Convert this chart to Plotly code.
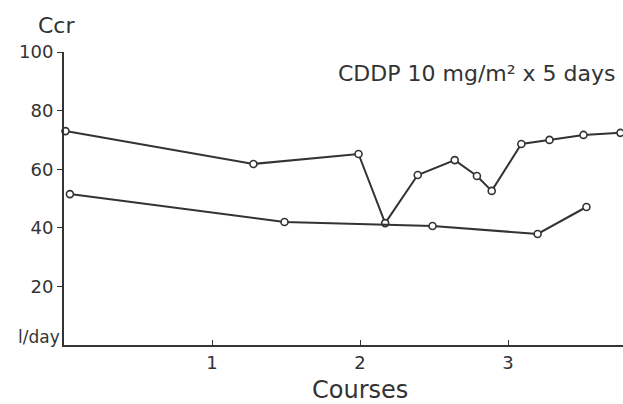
import plotly.graph_objects as go

# Creatinine clearance (Ccr, l/day) over treatment courses
upper_courses = [0.01, 1.28, 1.99, 2.17, 2.39, 2.64, 2.79, 2.89, 3.09, 3.28, 3.51, 3.76]
upper_ccr = [73.0, 61.8, 65.2, 41.6, 58.0, 63.1, 57.7, 52.6, 68.6, 70.0, 71.7, 72.4]

lower_courses = [0.04, 1.49, 2.49, 3.20, 3.53]
lower_ccr = [51.5, 42.0, 40.6, 37.9, 47.1]

x_ticks = [1, 2, 3]
y_ticks = [20, 40, 60, 80, 100]

ink = "#333333"
font = "DejaVu Sans"

fig = go.Figure()
for xs, ys in [(upper_courses, upper_ccr), (lower_courses, lower_ccr)]:
    fig.add_trace(go.Scatter(
        x=xs, y=ys, mode="lines+markers",
        line=dict(color=ink, width=2),
        marker=dict(symbol="circle", size=7, color="white",
                    line=dict(color=ink, width=1.6)),
        cliponaxis=False, showlegend=False,
    ))

fig.update_layout(
    width=623, height=404,
    margin=dict(l=64, r=0, t=52, b=59),
    paper_bgcolor="white", plot_bgcolor="white",
    font=dict(family=font, color=ink, size=17),
    xaxis=dict(range=[0, 3.777], tickvals=x_ticks, ticks="inside", ticklen=5,
               tickcolor=ink, showline=True, linecolor=ink, linewidth=2,
               showgrid=False, zeroline=False, tickfont=dict(size=18)),
    yaxis=dict(range=[0, 100], tickvals=y_ticks, ticks="outside", ticklen=5,
               tickcolor=ink, showline=True, linecolor=ink, linewidth=2,
               showgrid=False, zeroline=False, ticklabelstandoff=0,
               tickfont=dict(size=18)),
    annotations=[
        dict(text="Ccr", xref="paper", yref="paper", x=0, y=1, xshift=-8,
             yshift=27, xanchor="center", yanchor="middle", showarrow=False,
             font=dict(size=22)),
        dict(text="l/day", xref="paper", yref="y", x=0, y=0, xshift=-2,
             yshift=8, xanchor="right", yanchor="middle", showarrow=False,
             font=dict(size=17)),
        dict(text="Courses", xref="paper", yref="paper", x=0.53, y=0,
             yshift=-45, xanchor="center", yanchor="middle", showarrow=False,
             font=dict(size=24)),
        dict(text="CDDP 10 mg/m\u00b2 x 5 days", xref="paper", yref="paper",
             x=1, y=1, xshift=-6, yshift=-21, xanchor="right",
             yanchor="middle", showarrow=False, font=dict(size=22)),
    ],
)

fig.write_html("out.html")
